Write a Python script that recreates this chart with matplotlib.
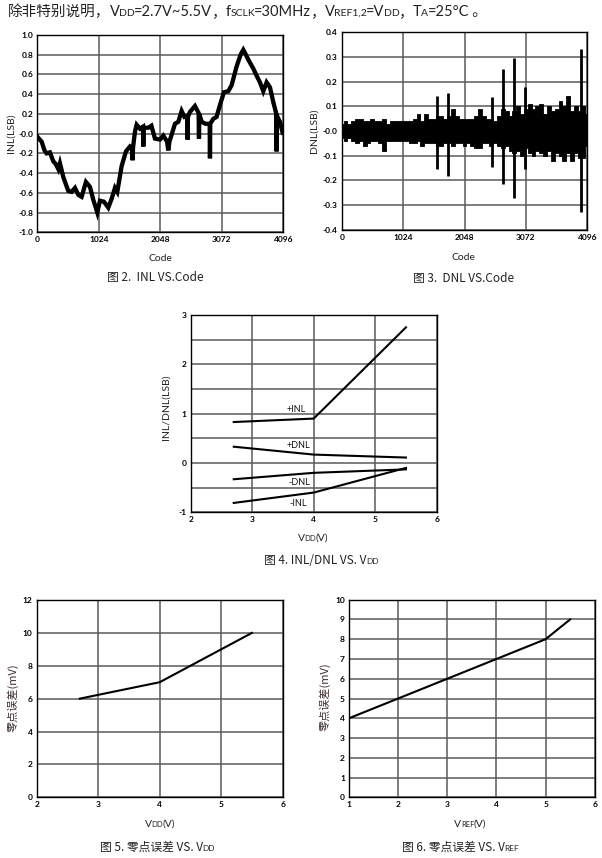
import matplotlib
matplotlib.use("Agg")
import matplotlib.pyplot as plt
import numpy as np

plt.rcParams['font.family'] = ['Lato', 'Noto Sans CJK SC', 'DejaVu Sans']

W, H = 602, 858
LATIN = ['Lato', 'Noto Sans CJK SC', 'DejaVu Sans']
CJK = ['Noto Sans CJK SC', 'Lato', 'DejaVu Sans']

# ---------------- data ----------------
inl_code = [0, 40, 72, 120, 155, 210, 266, 310, 350, 377, 433, 480, 516, 571, 627, 683, 738,
            810, 877, 932, 999, 1043, 1110, 1182, 1238, 1293, 1332, 1404, 1476, 1543, 1580,
            1587, 1594, 1626, 1654, 1710, 1760, 1765, 1770, 1848, 1900, 1959, 2042, 2098,
            2160, 2181, 2200, 2237, 2292, 2348, 2403, 2450, 2498, 2503, 2508, 2542, 2625,
            2686, 2692, 2698, 2736, 2800, 2870, 2875, 2880, 2930, 2985, 3041, 3108, 3180,
            3235, 3318, 3385, 3430, 3457, 3513, 3596, 3650, 3707, 3763, 3818, 3874, 3929,
            3980, 3985, 3990, 4040, 4085]
inl_val = [-0.03, -0.06, -0.08, -0.17, -0.20, -0.19, -0.28, -0.31, -0.36, -0.30, -0.44, -0.52,
           -0.58, -0.59, -0.55, -0.62, -0.64, -0.49, -0.54, -0.67, -0.80, -0.68, -0.69, -0.75,
           -0.66, -0.55, -0.59, -0.33, -0.18, -0.13, -0.15, -0.27, -0.14, 0.02, 0.09, 0.05,
           0.07, -0.13, 0.06, 0.06, 0.08, -0.05, -0.06, -0.02, -0.08, -0.17, -0.08, -0.01,
           0.10, 0.12, 0.23, 0.17, 0.18, -0.06, 0.17, 0.22, 0.28, 0.21, -0.05, 0.20, 0.12,
           0.10, 0.10, -0.25, 0.10, 0.15, 0.17, 0.29, 0.42, 0.43, 0.49, 0.68, 0.80, 0.85,
           0.82, 0.75, 0.66, 0.59, 0.52, 0.43, 0.52, 0.47, 0.32, 0.20, -0.18, 0.18, 0.12, 0.01]

dnl_code = list(range(0, 4097, 64))
dnl_hi = [0.03, 0.04, 0.03, 0.04, 0.05, 0.05, 0.04, 0.04, 0.05, 0.04, 0.04, 0.05, 0.03, 0.04, 0.04, 0.04, 0.04,
          0.04, 0.04, 0.05, 0.07, 0.04, 0.07, 0.05, 0.05, 0.06, 0.06, 0.05, 0.06, 0.09, 0.06, 0.05, 0.05,
          0.05, 0.05, 0.06, 0.09, 0.06, 0.05, 0.05, 0.04, 0.06, 0.09, 0.08, 0.06, 0.08, 0.10, 0.07, 0.09,
          0.11, 0.09, 0.10, 0.11, 0.07, 0.10, 0.08, 0.09, 0.12, 0.10, 0.14, 0.08, 0.10, 0.08, 0.10, 0.07]
dnl_lo = [-0.03, -0.04, -0.03, -0.04, -0.05, -0.04, -0.06, -0.05, -0.04, -0.04, -0.05, -0.08, -0.04, -0.04, -0.04, -0.04, -0.04,
          -0.04, -0.05, -0.05, -0.04, -0.06, -0.05, -0.05, -0.05, -0.06, -0.06, -0.05, -0.05, -0.06, -0.05, -0.05, -0.06,
          -0.05, -0.06, -0.07, -0.07, -0.05, -0.05, -0.06, -0.05, -0.06, -0.07, -0.06, -0.08, -0.09, -0.08, -0.10, -0.07,
          -0.09, -0.10, -0.08, -0.09, -0.10, -0.08, -0.12, -0.09, -0.10, -0.12, -0.09, -0.12, -0.09, -0.11, -0.11, -0.06]
spike_code = [1584, 1767, 2512, 2690, 2873, 3062, 3990]
spike_hi = [0.143, 0.153, 0.139, 0.250, 0.295, 0.180, 0.331]
spike_lo = [-0.154, -0.182, -0.147, -0.213, -0.270, -0.155, -0.327]

vdd = [2.7, 4.0, 5.5]
pos_inl = [0.83, 0.90, 2.75]
pos_dnl = [0.33, 0.17, 0.11]
neg_dnl = [-0.33, -0.20, -0.13]
neg_inl = [-0.81, -0.60, -0.10]
curve_labels = ['+INL', '+DNL', '-DNL', '-INL']
label_pos = [(3.72, 1.09), (3.75, 0.36), (3.77, -0.40), (3.75, -0.83)]

zero_vdd = [2.7, 4.0, 5.0, 5.5]
zero_err_vdd = [6.0, 7.0, 9.0, 10.0]
vref = [1, 2, 3, 4, 5, 5.5]
zero_err_vref = [4, 5, 6, 7, 8, 9]

code_ticks = [0, 1024, 2048, 3072, 4096]

# ---------------- figure ----------------
fig = plt.figure(figsize=(W / 100, H / 100), dpi=100)


def add_ax(l, t, r, b):
    return fig.add_axes([l / W, 1 - b / H, (r - l) / W, (b - t) / H])


GRID = '#5a5a5a'


def style(ax):
    ax.grid(True, color=GRID, lw=1.1)
    ax.set_axisbelow(True)
    for s in ax.spines.values():
        s.set_color('black')
        s.set_linewidth(1.0)
    ax.tick_params(length=0, labelsize=6, pad=3)
    for lab in ax.get_xticklabels() + ax.get_yticklabels():
        lab.set_fontweight('bold')


renderer = fig.canvas.get_renderer()


def rich(x, y, pieces, ha='center', color='#222222', kern=0.6):
    """pieces: list of (text, size, family). y is baseline in pixels from top."""
    texts = []
    widths = []
    for s, size, fam in pieces:
        t = fig.text(0, 0, s, fontsize=size, family=fam, va='baseline', ha='left', color=color)
        bb = t.get_window_extent(renderer)
        texts.append(t)
        widths.append(bb.width - kern)
    total = sum(widths)
    x0 = x - total / 2 if ha == 'center' else x
    for t, w in zip(texts, widths):
        t.set_position((x0 / W, 1 - y / H))
        x0 += w


# Header
HS, SS = 10.5, 7.5
rich(8, 16, [('除非特别说明，', HS, CJK), ('V', HS, LATIN), ('DD', SS, LATIN), ('=2.7V~5.5V', HS, LATIN),
             ('，', HS, CJK), ('f', HS, LATIN), ('SCLK', SS, LATIN), ('=30MHz', HS, LATIN), ('，', HS, CJK),
             ('V', HS, LATIN), ('REF1,2', SS, LATIN), ('=V', HS, LATIN), ('DD', SS, LATIN), ('，', HS, CJK),
             ('T', HS, LATIN), ('A', SS, LATIN), ('=25°C', HS, LATIN), (' 。', HS, CJK)], ha='left')

# INL vs code
ax1 = add_ax(37.3, 35, 283.3, 232.3)
ax1.plot(inl_code, inl_val, color='black', lw=3.1, solid_joinstyle='miter')
ax1.set_xlim(0, 4096)
ax1.set_ylim(-1.0, 1.0)
ax1.set_xticks(code_ticks)
ax1.set_yticks(np.round(np.arange(-1.0, 1.01, 0.2), 1))
ax1.yaxis.set_major_formatter(matplotlib.ticker.FormatStrFormatter('%.1f'))
style(ax1)
fig.text(11 / W, 1 - 133 / H, 'INL(LSB)', rotation=90, ha='center', va='center', fontsize=7.5, color='#222222')
rich(160, 261, [('Code', 7.5, LATIN)])
rich(155, 281, [('图 2.  INL VS.Code', 8.5, CJK)])

# DNL vs code
ax2 = add_ax(341.7, 32.3, 587.3, 229.7)
ax2.fill_between(dnl_code, dnl_lo, dnl_hi, step='mid', color='black', lw=0.6, edgecolor='black')
ax2.vlines(spike_code, spike_lo, spike_hi, color='black', lw=2.0)
ax2.set_xlim(0, 4096)
ax2.set_ylim(-0.4, 0.4)
ax2.set_xticks(code_ticks)
ax2.set_yticks(np.round(np.arange(-0.4, 0.41, 0.1), 1))
ax2.yaxis.set_major_formatter(matplotlib.ticker.FormatStrFormatter('%.1f'))
style(ax2)
fig.text(314 / W, 1 - 131 / H, 'DNL(LSB)', rotation=90, ha='center', va='center', fontsize=7.5, color='#222222')
rich(463, 260, [('Code', 7.5, LATIN)])
rich(463, 282, [('图 3.  DNL VS.Code', 8.5, CJK)])

# INL/DNL vs VDD
ax3 = add_ax(190.7, 315, 436.7, 512.3)
for ys in (pos_inl, pos_dnl, neg_dnl, neg_inl):
    ax3.plot(vdd, ys, color='black', lw=1.5)
for lab, (lx, ly) in zip(curve_labels, label_pos):
    ax3.text(lx, ly, lab, fontsize=6.5, ha='center', va='center', color='#111111')
ax3.set_xlim(2, 6)
ax3.set_ylim(-1, 3)
ax3.set_xticks([2, 3, 4, 5, 6])
ax3.set_yticks(np.arange(-1, 3.01, 0.5))
ax3.set_yticklabels(['-1', '', '0', '', '1', '', '2', '', '3'])
style(ax3)
fig.text(166 / W, 1 - 407 / H, 'INL/DNL(LSB)', rotation=90, ha='center', va='center', fontsize=7.5, color='#222222')
rich(313, 541, [('V', 7.5, LATIN), ('DD', 5.5, LATIN), ('(V)', 7.5, LATIN)])
rich(321, 564, [('图 4. INL/DNL VS. V', 8.5, CJK), ('DD', 6, LATIN)])

# Zero error vs VDD
ax4 = add_ax(36.7, 600, 282.7, 797.3)
ax4.plot(zero_vdd, zero_err_vdd, color='black', lw=1.5)
ax4.set_xlim(2, 6)
ax4.set_ylim(0, 12)
ax4.set_xticks([2, 3, 4, 5, 6])
ax4.set_yticks(range(0, 13, 2))
style(ax4)
fig.text(13 / W, 1 - 698 / H, '零点误差(mV)', rotation=90, ha='center', va='center', fontsize=8,
         family=CJK, color='#3b2b2b')
rich(160, 827, [('V', 7.5, LATIN), ('DD', 5.5, LATIN), ('(V)', 7.5, LATIN)])
rich(157, 851, [('图 5. 零点误差 VS. V', 8.5, CJK), ('DD', 6, LATIN)])

# Zero error vs VREF
ax5 = add_ax(349, 599.7, 594.7, 797.3)
ax5.plot(vref, zero_err_vref, color='black', lw=1.5)
ax5.set_xlim(1, 6)
ax5.set_ylim(0, 10)
ax5.set_xticks([1, 2, 3, 4, 5, 6])
ax5.set_yticks(range(0, 11))
style(ax5)
fig.text(325 / W, 1 - 697 / H, '零点误差(mV)', rotation=90, ha='center', va='center', fontsize=8,
         family=CJK, color='#3b2b2b')
rich(470, 827, [('V', 7.5, LATIN), ('REF', 5.5, LATIN), ('(V)', 7.5, LATIN)])
rich(460, 851, [('图 6. 零点误差 VS. V', 8.5, CJK), ('REF', 6, LATIN)])

fig.savefig('out.png', dpi=100)
